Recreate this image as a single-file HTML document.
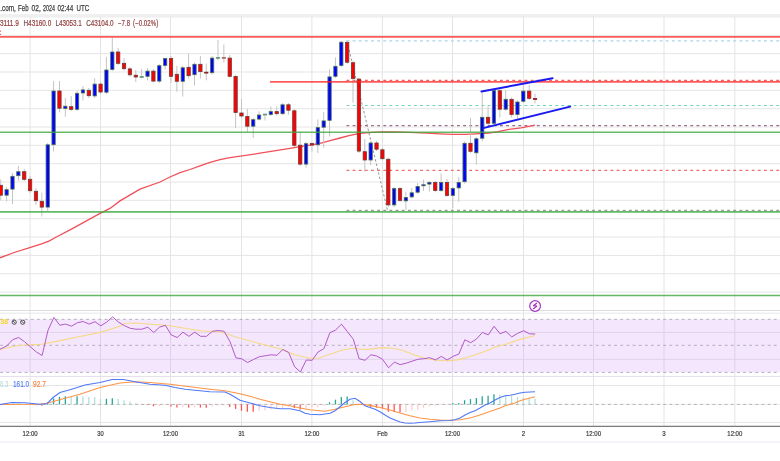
<!DOCTYPE html><html><head><meta charset="utf-8"><style>html,body{margin:0;padding:0;background:#fff;overflow:hidden}svg{display:block}text{font-family:"Liberation Sans",Arial,sans-serif}</style></head><body>
<svg width="780" height="461" viewBox="0 0 780 461">
<rect x="0" y="0" width="780" height="461" fill="#fff"/>
<g stroke="#e5e5e5" stroke-width="1"><line x1="0" y1="16.9" x2="780" y2="16.9"/><line x1="0" y1="35.3" x2="780" y2="35.3"/><line x1="0" y1="53.6" x2="780" y2="53.6"/><line x1="0" y1="72.0" x2="780" y2="72.0"/><line x1="0" y1="90.3" x2="780" y2="90.3"/><line x1="0" y1="108.7" x2="780" y2="108.7"/><line x1="0" y1="127.0" x2="780" y2="127.0"/><line x1="0" y1="145.3" x2="780" y2="145.3"/><line x1="0" y1="163.7" x2="780" y2="163.7"/><line x1="0" y1="182.0" x2="780" y2="182.0"/><line x1="0" y1="200.3" x2="780" y2="200.3"/><line x1="0" y1="218.7" x2="780" y2="218.7"/><line x1="0" y1="237.0" x2="780" y2="237.0"/><line x1="0" y1="255.4" x2="780" y2="255.4"/><line x1="0" y1="273.7" x2="780" y2="273.7"/><line x1="0" y1="292.1" x2="780" y2="292.1"/></g>
<g stroke="#e6e6e6" stroke-width="1"><line x1="0" y1="313.2" x2="780" y2="313.2"/><line x1="0" y1="385.5" x2="780" y2="385.5"/><line x1="0" y1="422.4" x2="780" y2="422.4"/></g>
<g stroke="#e4e4e4" stroke-width="1"><line x1="30.1" y1="14" x2="30.1" y2="426"/><line x1="100.5" y1="14" x2="100.5" y2="426"/><line x1="170.5" y1="14" x2="170.5" y2="426"/><line x1="241.5" y1="14" x2="241.5" y2="426"/><line x1="311.9" y1="14" x2="311.9" y2="426"/><line x1="382.4" y1="14" x2="382.4" y2="426"/><line x1="452.5" y1="14" x2="452.5" y2="426"/><line x1="523.5" y1="14" x2="523.5" y2="426"/><line x1="593.5" y1="14" x2="593.5" y2="426"/><line x1="664.0" y1="14" x2="664.0" y2="426"/><line x1="734.8" y1="14" x2="734.8" y2="426"/></g>
<rect x="0" y="319.3" width="780" height="53.1" fill="#f4e6fc"/>
<g stroke="#e2d2ec" stroke-width="1"><line x1="0" y1="332.4" x2="780" y2="332.4"/><line x1="0" y1="359.3" x2="780" y2="359.3"/></g>
<g stroke="#e0d0ea" stroke-width="1"><line x1="30.1" y1="319.3" x2="30.1" y2="372.4"/><line x1="100.5" y1="319.3" x2="100.5" y2="372.4"/><line x1="170.5" y1="319.3" x2="170.5" y2="372.4"/><line x1="241.5" y1="319.3" x2="241.5" y2="372.4"/><line x1="311.9" y1="319.3" x2="311.9" y2="372.4"/><line x1="382.4" y1="319.3" x2="382.4" y2="372.4"/><line x1="452.5" y1="319.3" x2="452.5" y2="372.4"/><line x1="523.5" y1="319.3" x2="523.5" y2="372.4"/><line x1="593.5" y1="319.3" x2="593.5" y2="372.4"/><line x1="664.0" y1="319.3" x2="664.0" y2="372.4"/><line x1="734.8" y1="319.3" x2="734.8" y2="372.4"/></g>
<g stroke="#b3adb9" stroke-width="1" stroke-dasharray="2.8,3.34" stroke-dashoffset="-0.2"><line x1="0" y1="319.3" x2="780" y2="319.3"/><line x1="0" y1="345.3" x2="780" y2="345.3"/><line x1="0" y1="372.4" x2="780" y2="372.4"/></g>
<line x1="0" y1="310.5" x2="780" y2="310.5" stroke="#dcdcdc" stroke-width="1"/>
<line x1="0" y1="376.4" x2="780" y2="376.4" stroke="#e4dcea" stroke-width="1"/>
<line x1="0" y1="404.4" x2="780" y2="404.4" stroke="#ececec" stroke-width="1"/>
<line x1="0" y1="404.4" x2="780" y2="404.4" stroke="#b2b2b2" stroke-width="1" stroke-dasharray="2.8,3.34" stroke-dashoffset="-0.2"/>
<line x1="0" y1="426.4" x2="780" y2="426.4" stroke="#7a7a7a" stroke-width="1.2"/>
<line x1="0" y1="442.1" x2="780" y2="442.1" stroke="#eceef3" stroke-width="1.2"/>
<rect x="0" y="0" width="780" height="14" fill="#fff"/>
<line x1="0" y1="15.3" x2="780" y2="15.3" stroke="#f0f0f0" stroke-width="2.5"/>
<g stroke-width="1.2" stroke-dasharray="2.8,3.34"><line x1="346.5" y1="40.9" x2="780" y2="40.9" stroke="#a6d3ea"/><line x1="346.5" y1="80.4" x2="780" y2="80.4" stroke="#f45a5a"/><line x1="346.5" y1="105.5" x2="780" y2="105.5" stroke="#6ad3b6"/><line x1="346.5" y1="125.6" x2="780" y2="125.6" stroke="#9a6a86"/><line x1="346.5" y1="170.4" x2="780" y2="170.4" stroke="#f26a6a"/><line x1="346.5" y1="210.4" x2="780" y2="210.4" stroke="#999999"/></g>
<line x1="347" y1="41" x2="387.5" y2="210.4" stroke="#8a8a8a" stroke-width="0.9" stroke-dasharray="2.5,2"/>
<polyline points="0.0,257.8 14.1,252.5 28.2,248.2 42.3,243.7 49.4,240.9 56.4,237.0 70.5,229.6 84.6,221.9 98.7,214.1 110.0,208.4 120.0,200.9 140.0,189.2 160.0,182.0 170.0,177.0 180.0,172.7 190.0,169.5 200.0,165.9 210.0,162.3 220.0,159.6 230.0,157.6 260.0,153.2 290.0,148.4 300.0,146.6 310.0,145.1 320.0,143.3 330.0,140.6 340.0,138.0 350.0,135.3 360.0,133.4 372.0,132.3 382.0,131.9 395.0,132.0 410.0,132.3 427.0,133.1 440.0,133.8 452.0,134.3 465.0,134.4 476.0,133.8 489.0,133.0 498.0,131.6 509.0,129.4 521.0,127.8 535.0,125.2" fill="none" stroke="#f0505a" stroke-width="1.3"/>
<g stroke="#c4c4c4" stroke-width="1"><line x1="0.74" y1="179.5" x2="0.74" y2="200.4"/><line x1="6.61" y1="187.3" x2="6.61" y2="201.4"/><line x1="12.49" y1="173.0" x2="12.49" y2="204.3"/><line x1="18.36" y1="165.9" x2="18.36" y2="180.8"/><line x1="24.23" y1="168.8" x2="24.23" y2="181.0"/><line x1="30.10" y1="176.0" x2="30.10" y2="193.0"/><line x1="35.97" y1="188.0" x2="35.97" y2="205.0"/><line x1="41.84" y1="192.7" x2="41.84" y2="216.5"/><line x1="47.72" y1="143.0" x2="47.72" y2="211.0"/><line x1="53.59" y1="81.0" x2="53.59" y2="151.5"/><line x1="59.46" y1="81.0" x2="59.46" y2="112.4"/><line x1="65.33" y1="98.0" x2="65.33" y2="116.8"/><line x1="71.20" y1="96.0" x2="71.20" y2="111.0"/><line x1="77.07" y1="91.0" x2="77.07" y2="111.0"/><line x1="82.94" y1="86.0" x2="82.94" y2="100.5"/><line x1="88.82" y1="88.0" x2="88.82" y2="98.0"/><line x1="94.69" y1="78.2" x2="94.69" y2="98.0"/><line x1="100.56" y1="82.0" x2="100.56" y2="94.0"/><line x1="106.43" y1="57.0" x2="106.43" y2="94.0"/><line x1="112.30" y1="37.6" x2="112.30" y2="71.0"/><line x1="118.17" y1="47.8" x2="118.17" y2="65.0"/><line x1="124.05" y1="58.2" x2="124.05" y2="70.5"/><line x1="129.92" y1="67.0" x2="129.92" y2="76.5"/><line x1="135.79" y1="70.0" x2="135.79" y2="82.0"/><line x1="141.66" y1="69.0" x2="141.66" y2="78.5"/><line x1="147.53" y1="68.0" x2="147.53" y2="80.3"/><line x1="153.41" y1="69.0" x2="153.41" y2="82.5"/><line x1="159.28" y1="64.0" x2="159.28" y2="83.0"/><line x1="165.15" y1="57.8" x2="165.15" y2="69.5"/><line x1="171.02" y1="56.0" x2="171.02" y2="83.0"/><line x1="176.89" y1="65.8" x2="176.89" y2="91.8"/><line x1="182.76" y1="65.8" x2="182.76" y2="96.5"/><line x1="188.63" y1="53.4" x2="188.63" y2="78.8"/><line x1="194.51" y1="62.5" x2="194.51" y2="85.3"/><line x1="200.38" y1="56.0" x2="200.38" y2="78.8"/><line x1="206.25" y1="63.6" x2="206.25" y2="80.3"/><line x1="212.12" y1="56.0" x2="212.12" y2="74.5"/><line x1="217.99" y1="39.8" x2="217.99" y2="60.4"/><line x1="223.86" y1="44.5" x2="223.86" y2="62.5"/><line x1="229.74" y1="55.0" x2="229.74" y2="77.5"/><line x1="235.61" y1="75.0" x2="235.61" y2="128.2"/><line x1="241.48" y1="99.0" x2="241.48" y2="117.5"/><line x1="247.35" y1="109.2" x2="247.35" y2="131.9"/><line x1="253.22" y1="118.0" x2="253.22" y2="138.0"/><line x1="259.09" y1="111.3" x2="259.09" y2="120.5"/><line x1="264.97" y1="113.5" x2="264.97" y2="120.5"/><line x1="270.84" y1="106.4" x2="270.84" y2="116.0"/><line x1="276.71" y1="106.5" x2="276.71" y2="115.5"/><line x1="282.58" y1="103.0" x2="282.58" y2="115.0"/><line x1="288.45" y1="103.0" x2="288.45" y2="114.5"/><line x1="294.32" y1="109.0" x2="294.32" y2="147.0"/><line x1="300.20" y1="131.5" x2="300.20" y2="166.0"/><line x1="306.07" y1="142.0" x2="306.07" y2="167.7"/><line x1="311.94" y1="142.5" x2="311.94" y2="151.4"/><line x1="317.81" y1="119.5" x2="317.81" y2="153.0"/><line x1="323.68" y1="112.0" x2="323.68" y2="147.7"/><line x1="329.56" y1="69.0" x2="329.56" y2="136.6"/><line x1="335.43" y1="57.5" x2="335.43" y2="78.0"/><line x1="341.30" y1="40.8" x2="341.30" y2="67.0"/><line x1="347.17" y1="41.0" x2="347.17" y2="64.0"/><line x1="353.04" y1="61.0" x2="353.04" y2="102.7"/><line x1="358.91" y1="77.5" x2="358.91" y2="153.0"/><line x1="364.78" y1="139.0" x2="364.78" y2="171.6"/><line x1="370.66" y1="141.0" x2="370.66" y2="165.0"/><line x1="376.53" y1="141.0" x2="376.53" y2="151.0"/><line x1="382.40" y1="148.0" x2="382.40" y2="160.5"/><line x1="388.27" y1="157.5" x2="388.27" y2="207.0"/><line x1="394.14" y1="187.0" x2="394.14" y2="207.0"/><line x1="400.01" y1="187.0" x2="400.01" y2="202.0"/><line x1="405.89" y1="191.7" x2="405.89" y2="209.9"/><line x1="411.76" y1="188.0" x2="411.76" y2="198.5"/><line x1="417.63" y1="183.0" x2="417.63" y2="194.0"/><line x1="423.50" y1="179.5" x2="423.50" y2="190.8"/><line x1="429.37" y1="181.0" x2="429.37" y2="191.7"/><line x1="435.25" y1="181.0" x2="435.25" y2="192.0"/><line x1="441.12" y1="173.4" x2="441.12" y2="192.0"/><line x1="446.99" y1="179.0" x2="446.99" y2="197.0"/><line x1="452.86" y1="187.0" x2="452.86" y2="208.2"/><line x1="458.73" y1="177.0" x2="458.73" y2="201.7"/><line x1="464.60" y1="141.5" x2="464.60" y2="183.5"/><line x1="470.47" y1="117.7" x2="470.47" y2="153.0"/><line x1="476.35" y1="137.0" x2="476.35" y2="164.7"/><line x1="482.22" y1="92.5" x2="482.22" y2="141.3"/><line x1="488.09" y1="106.6" x2="488.09" y2="125.0"/><line x1="493.96" y1="89.0" x2="493.96" y2="125.0"/><line x1="499.83" y1="89.0" x2="499.83" y2="117.5"/><line x1="505.70" y1="90.0" x2="505.70" y2="111.0"/><line x1="511.58" y1="97.5" x2="511.58" y2="117.5"/><line x1="517.45" y1="100.5" x2="517.45" y2="118.5"/><line x1="523.32" y1="85.0" x2="523.32" y2="103.0"/><line x1="529.19" y1="85.0" x2="529.19" y2="100.0"/><line x1="535.06" y1="93.6" x2="535.06" y2="103.4"/></g>
<g stroke-width="0.8"><rect x="-0.91" y="185.30" width="3.30" height="9.90" fill="#ff0000" stroke="#6e3a3a"/><rect x="4.96" y="189.70" width="3.30" height="5.50" fill="#0000ff" stroke="#4f7252"/><rect x="10.84" y="176.30" width="3.30" height="12.80" fill="#0000ff" stroke="#4f7252"/><rect x="16.71" y="171.70" width="3.30" height="4.00" fill="#0000ff" stroke="#4f7252"/><rect x="22.58" y="171.70" width="3.30" height="7.60" fill="#ff0000" stroke="#6e3a3a"/><rect x="28.45" y="179.30" width="3.30" height="11.40" fill="#ff0000" stroke="#6e3a3a"/><rect x="34.32" y="191.30" width="3.30" height="9.40" fill="#ff0000" stroke="#6e3a3a"/><rect x="40.19" y="201.30" width="3.30" height="5.80" fill="#ff0000" stroke="#6e3a3a"/><rect x="46.07" y="144.80" width="3.30" height="62.30" fill="#0000ff" stroke="#4f7252"/><rect x="51.94" y="91.00" width="3.30" height="53.70" fill="#0000ff" stroke="#4f7252"/><rect x="57.81" y="91.00" width="3.30" height="17.20" fill="#ff0000" stroke="#6e3a3a"/><rect x="63.68" y="106.20" width="3.30" height="2.30" fill="#0000ff" stroke="#4f7252"/><rect x="69.55" y="106.70" width="3.30" height="2.60" fill="#ff0000" stroke="#6e3a3a"/><rect x="75.42" y="93.30" width="3.30" height="16.00" fill="#0000ff" stroke="#4f7252"/><rect x="81.29" y="89.90" width="3.30" height="3.10" fill="#0000ff" stroke="#4f7252"/><rect x="87.17" y="90.30" width="3.30" height="5.40" fill="#ff0000" stroke="#6e3a3a"/><rect x="93.04" y="84.10" width="3.30" height="11.80" fill="#0000ff" stroke="#4f7252"/><rect x="98.91" y="84.10" width="3.30" height="7.90" fill="#ff0000" stroke="#6e3a3a"/><rect x="104.78" y="70.00" width="3.30" height="22.20" fill="#0000ff" stroke="#4f7252"/><rect x="110.65" y="52.00" width="3.30" height="17.40" fill="#0000ff" stroke="#4f7252"/><rect x="116.52" y="52.00" width="3.30" height="11.30" fill="#ff0000" stroke="#6e3a3a"/><rect x="122.40" y="63.30" width="3.30" height="5.40" fill="#ff0000" stroke="#6e3a3a"/><rect x="128.27" y="68.90" width="3.30" height="5.90" fill="#ff0000" stroke="#6e3a3a"/><rect x="134.14" y="75.20" width="3.30" height="1.80" fill="#ff0000" stroke="#6e3a3a"/><rect x="140.01" y="76.50" width="3.30" height="0.90" fill="#6e9a7e" stroke="#6e9a7e"/><rect x="145.88" y="71.10" width="3.30" height="5.20" fill="#0000ff" stroke="#4f7252"/><rect x="151.75" y="71.10" width="3.30" height="10.00" fill="#ff0000" stroke="#6e3a3a"/><rect x="157.63" y="65.70" width="3.30" height="15.40" fill="#0000ff" stroke="#4f7252"/><rect x="163.50" y="58.50" width="3.30" height="7.00" fill="#0000ff" stroke="#4f7252"/><rect x="169.37" y="58.50" width="3.30" height="17.80" fill="#ff0000" stroke="#6e3a3a"/><rect x="175.24" y="74.30" width="3.30" height="7.00" fill="#ff0000" stroke="#6e3a3a"/><rect x="181.11" y="67.80" width="3.30" height="13.50" fill="#0000ff" stroke="#4f7252"/><rect x="186.98" y="67.30" width="3.30" height="8.40" fill="#ff0000" stroke="#6e3a3a"/><rect x="192.86" y="64.30" width="3.30" height="10.40" fill="#0000ff" stroke="#4f7252"/><rect x="198.73" y="64.30" width="3.30" height="7.30" fill="#ff0000" stroke="#6e3a3a"/><rect x="204.60" y="72.20" width="3.30" height="0.90" fill="#8a2020" stroke="#8a2020"/><rect x="210.47" y="58.10" width="3.30" height="14.60" fill="#0000ff" stroke="#4f7252"/><rect x="216.34" y="57.40" width="3.30" height="0.90" fill="#6e9a7e" stroke="#6e9a7e"/><rect x="222.21" y="57.40" width="3.30" height="0.90" fill="#a86a6a" stroke="#a86a6a"/><rect x="228.09" y="58.10" width="3.30" height="18.20" fill="#ff0000" stroke="#6e3a3a"/><rect x="233.96" y="76.50" width="3.30" height="36.00" fill="#ff0000" stroke="#6e3a3a"/><rect x="239.83" y="113.00" width="3.30" height="3.00" fill="#ff0000" stroke="#6e3a3a"/><rect x="245.70" y="116.50" width="3.30" height="9.70" fill="#ff0000" stroke="#6e3a3a"/><rect x="251.57" y="119.70" width="3.30" height="6.50" fill="#0000ff" stroke="#4f7252"/><rect x="257.44" y="115.00" width="3.30" height="4.10" fill="#0000ff" stroke="#4f7252"/><rect x="263.32" y="114.10" width="3.30" height="0.90" fill="#6e9a7e" stroke="#6e9a7e"/><rect x="269.19" y="111.60" width="3.30" height="2.90" fill="#0000ff" stroke="#4f7252"/><rect x="275.06" y="111.60" width="3.30" height="2.10" fill="#ff0000" stroke="#6e3a3a"/><rect x="280.93" y="104.80" width="3.30" height="8.90" fill="#0000ff" stroke="#4f7252"/><rect x="286.80" y="104.80" width="3.30" height="5.40" fill="#ff0000" stroke="#6e3a3a"/><rect x="292.68" y="110.80" width="3.30" height="34.50" fill="#ff0000" stroke="#6e3a3a"/><rect x="298.55" y="145.20" width="3.30" height="18.90" fill="#ff0000" stroke="#6e3a3a"/><rect x="304.42" y="143.70" width="3.30" height="20.40" fill="#0000ff" stroke="#4f7252"/><rect x="310.29" y="143.50" width="3.30" height="1.60" fill="#ff0000" stroke="#6e3a3a"/><rect x="316.16" y="127.60" width="3.30" height="17.20" fill="#0000ff" stroke="#4f7252"/><rect x="322.03" y="120.90" width="3.30" height="6.30" fill="#0000ff" stroke="#4f7252"/><rect x="327.91" y="76.90" width="3.30" height="43.40" fill="#0000ff" stroke="#4f7252"/><rect x="333.78" y="66.30" width="3.30" height="10.00" fill="#0000ff" stroke="#4f7252"/><rect x="339.65" y="42.20" width="3.30" height="23.30" fill="#0000ff" stroke="#4f7252"/><rect x="345.52" y="42.40" width="3.30" height="19.80" fill="#ff0000" stroke="#6e3a3a"/><rect x="351.39" y="62.70" width="3.30" height="15.80" fill="#ff0000" stroke="#6e3a3a"/><rect x="357.26" y="79.10" width="3.30" height="72.00" fill="#ff0000" stroke="#6e3a3a"/><rect x="363.13" y="151.70" width="3.30" height="8.30" fill="#ff0000" stroke="#6e3a3a"/><rect x="369.01" y="143.00" width="3.30" height="17.00" fill="#0000ff" stroke="#4f7252"/><rect x="374.88" y="143.00" width="3.30" height="6.20" fill="#ff0000" stroke="#6e3a3a"/><rect x="380.75" y="149.80" width="3.30" height="8.90" fill="#ff0000" stroke="#6e3a3a"/><rect x="386.62" y="159.30" width="3.30" height="45.60" fill="#ff0000" stroke="#6e3a3a"/><rect x="392.49" y="188.60" width="3.30" height="16.30" fill="#0000ff" stroke="#4f7252"/><rect x="398.37" y="188.60" width="3.30" height="11.80" fill="#ff0000" stroke="#6e3a3a"/><rect x="404.24" y="197.50" width="3.30" height="3.40" fill="#0000ff" stroke="#4f7252"/><rect x="410.11" y="192.80" width="3.30" height="4.10" fill="#0000ff" stroke="#4f7252"/><rect x="415.98" y="186.40" width="3.30" height="5.80" fill="#0000ff" stroke="#4f7252"/><rect x="421.85" y="184.70" width="3.30" height="1.10" fill="#0000ff" stroke="#4f7252"/><rect x="427.72" y="182.40" width="3.30" height="1.70" fill="#0000ff" stroke="#4f7252"/><rect x="433.60" y="182.40" width="3.30" height="8.10" fill="#ff0000" stroke="#6e3a3a"/><rect x="439.47" y="182.40" width="3.30" height="8.10" fill="#0000ff" stroke="#4f7252"/><rect x="445.34" y="182.40" width="3.30" height="13.00" fill="#ff0000" stroke="#6e3a3a"/><rect x="451.21" y="188.50" width="3.30" height="6.90" fill="#0000ff" stroke="#4f7252"/><rect x="457.08" y="182.40" width="3.30" height="5.50" fill="#0000ff" stroke="#4f7252"/><rect x="462.95" y="143.30" width="3.30" height="38.40" fill="#0000ff" stroke="#4f7252"/><rect x="468.82" y="143.30" width="3.30" height="8.00" fill="#ff0000" stroke="#6e3a3a"/><rect x="474.70" y="138.80" width="3.30" height="14.00" fill="#0000ff" stroke="#4f7252"/><rect x="480.57" y="117.30" width="3.30" height="20.90" fill="#0000ff" stroke="#4f7252"/><rect x="486.44" y="117.30" width="3.30" height="5.90" fill="#ff0000" stroke="#6e3a3a"/><rect x="492.31" y="90.70" width="3.30" height="32.60" fill="#0000ff" stroke="#4f7252"/><rect x="498.18" y="90.70" width="3.30" height="18.50" fill="#ff0000" stroke="#6e3a3a"/><rect x="504.06" y="99.30" width="3.30" height="9.90" fill="#0000ff" stroke="#4f7252"/><rect x="509.93" y="99.30" width="3.30" height="15.20" fill="#ff0000" stroke="#6e3a3a"/><rect x="515.80" y="102.00" width="3.30" height="12.50" fill="#0000ff" stroke="#4f7252"/><rect x="521.67" y="91.10" width="3.30" height="10.20" fill="#0000ff" stroke="#4f7252"/><rect x="527.54" y="91.10" width="3.30" height="7.20" fill="#ff0000" stroke="#6e3a3a"/><rect x="533.41" y="98.50" width="3.30" height="0.90" fill="#8a2020" stroke="#8a2020"/></g>
<g fill="none"><line x1="0" y1="36.9" x2="780" y2="36.9" stroke="#ff2020" stroke-opacity="0.74" stroke-width="1.9"/><line x1="270" y1="81.9" x2="780" y2="81.9" stroke="#ff2020" stroke-opacity="0.74" stroke-width="1.9"/><line x1="0" y1="132.3" x2="780" y2="132.3" stroke="#3fa63f" stroke-opacity="0.8" stroke-width="1.6"/><line x1="0" y1="211.9" x2="780" y2="211.9" stroke="#3fa63f" stroke-opacity="0.8" stroke-width="1.6"/><line x1="0" y1="295.5" x2="780" y2="295.5" stroke="#3fa63f" stroke-opacity="0.8" stroke-width="1.6"/></g>
<g stroke="#1a1af0" stroke-width="2" stroke-linecap="round"><line x1="481.5" y1="91.6" x2="552.6" y2="78.2"/><line x1="483.2" y1="128.1" x2="570.1" y2="106.6"/></g>
<polyline points="0.0,349.3 20.0,345.2 42.0,344.3 60.0,340.6 80.0,336.5 100.0,332.4 120.0,326.2 125.0,323.5 135.0,323.0 170.0,325.8 200.0,330.8 220.0,331.7 235.0,336.7 246.7,340.0 265.0,345.0 281.7,349.2 295.0,355.0 310.0,358.3 318.3,358.3 330.0,354.2 343.3,349.7 353.3,348.3 363.3,349.5 370.0,349.1 381.5,347.6 393.2,348.2 403.0,350.5 414.7,355.0 424.4,358.3 436.0,360.3 447.8,360.7 457.6,359.9 467.4,357.3 479.0,353.4 490.0,349.5 494.7,347.2 507.1,343.7 519.4,339.6 534.9,335.5" fill="none" stroke="#f6d985" stroke-width="1.1"/>
<polyline points="0.0,349.3 6.9,345.8 12.8,339.6 18.7,337.5 24.5,341.7 30.4,346.8 36.3,352.0 42.1,355.5 48.0,330.3 53.9,317.5 59.8,325.2 65.6,324.1 71.5,326.2 77.4,322.7 83.2,321.5 89.1,324.1 95.0,321.7 100.8,325.8 106.7,322.1 112.6,316.9 118.5,322.1 124.3,325.6 130.2,328.3 136.0,329.2 141.9,329.2 147.8,327.2 153.7,332.5 159.5,327.2 165.4,325.3 171.3,335.0 177.2,337.5 183.0,332.2 188.9,336.3 194.8,332.2 200.6,336.3 206.5,336.3 212.4,331.3 218.2,330.5 224.1,331.3 230.0,341.7 235.9,357.8 241.7,358.8 247.6,362.5 253.5,359.5 259.3,356.7 265.2,355.8 271.0,354.8 276.9,355.3 282.8,349.5 288.7,352.5 294.6,366.7 300.4,372.0 306.3,360.0 312.2,360.3 318.0,352.0 323.9,348.7 329.8,332.8 335.6,330.0 341.5,324.2 347.4,331.7 353.3,339.2 359.1,358.7 365.0,360.3 370.9,354.8 376.7,356.0 382.6,359.3 388.5,367.7 394.4,362.2 400.2,364.6 406.1,363.2 412.0,361.2 417.8,359.3 423.7,358.7 429.6,357.7 435.5,359.9 441.3,356.4 447.2,359.9 453.1,356.4 458.9,354.0 464.8,339.8 470.7,342.7 476.5,339.0 482.4,332.4 488.3,334.9 494.1,326.2 500.0,333.8 505.9,331.4 511.7,336.9 517.6,333.4 523.5,330.7 529.4,333.8 535.2,334.0" fill="none" stroke="#b25ac8" stroke-width="1.0" stroke-linejoin="round"/>
<g stroke-width="1.3"><line x1="0.74" y1="404.4" x2="0.74" y2="405.2" stroke="#ffcdd2"/><line x1="6.61" y1="404.2" x2="6.61" y2="404.4" stroke="#26a69a"/><line x1="12.49" y1="403.9" x2="12.49" y2="404.4" stroke="#26a69a"/><line x1="18.36" y1="403.8" x2="18.36" y2="404.4" stroke="#26a69a"/><line x1="24.23" y1="404.1" x2="24.23" y2="404.4" stroke="#b2dfdb"/><line x1="30.10" y1="404.3" x2="30.10" y2="404.4" stroke="#b2dfdb"/><line x1="35.97" y1="404.4" x2="35.97" y2="405.2" stroke="#ff5252"/><line x1="41.84" y1="404.4" x2="41.84" y2="405.7" stroke="#ff5252"/><line x1="47.72" y1="403.2" x2="47.72" y2="404.4" stroke="#26a69a"/><line x1="53.59" y1="398.4" x2="53.59" y2="404.4" stroke="#26a69a"/><line x1="59.46" y1="396.9" x2="59.46" y2="404.4" stroke="#26a69a"/><line x1="65.33" y1="396.2" x2="65.33" y2="404.4" stroke="#26a69a"/><line x1="71.20" y1="397.1" x2="71.20" y2="404.4" stroke="#b2dfdb"/><line x1="77.07" y1="396.2" x2="77.07" y2="404.4" stroke="#26a69a"/><line x1="82.94" y1="396.2" x2="82.94" y2="404.4" stroke="#b2dfdb"/><line x1="88.82" y1="397.1" x2="88.82" y2="404.4" stroke="#b2dfdb"/><line x1="94.69" y1="397.1" x2="94.69" y2="404.4" stroke="#b2dfdb"/><line x1="100.56" y1="399.0" x2="100.56" y2="404.4" stroke="#b2dfdb"/><line x1="106.43" y1="398.8" x2="106.43" y2="404.4" stroke="#26a69a"/><line x1="112.30" y1="398.2" x2="112.30" y2="404.4" stroke="#26a69a"/><line x1="118.17" y1="399.0" x2="118.17" y2="404.4" stroke="#b2dfdb"/><line x1="124.05" y1="400.3" x2="124.05" y2="404.4" stroke="#b2dfdb"/><line x1="129.92" y1="401.6" x2="129.92" y2="404.4" stroke="#b2dfdb"/><line x1="135.79" y1="403.2" x2="135.79" y2="404.4" stroke="#b2dfdb"/><line x1="141.66" y1="404.4" x2="141.66" y2="404.7" stroke="#ff5252"/><line x1="147.53" y1="404.4" x2="147.53" y2="405.0" stroke="#ff5252"/><line x1="153.41" y1="404.4" x2="153.41" y2="406.3" stroke="#ff5252"/><line x1="159.28" y1="404.4" x2="159.28" y2="406.1" stroke="#ffcdd2"/><line x1="165.15" y1="404.4" x2="165.15" y2="405.3" stroke="#ffcdd2"/><line x1="171.02" y1="404.4" x2="171.02" y2="406.6" stroke="#ff5252"/><line x1="176.89" y1="404.4" x2="176.89" y2="407.6" stroke="#ff5252"/><line x1="182.76" y1="404.4" x2="182.76" y2="407.3" stroke="#ffcdd2"/><line x1="188.63" y1="404.4" x2="188.63" y2="407.6" stroke="#ff5252"/><line x1="194.51" y1="404.4" x2="194.51" y2="407.3" stroke="#ffcdd2"/><line x1="200.38" y1="404.4" x2="200.38" y2="407.6" stroke="#ff5252"/><line x1="206.25" y1="404.4" x2="206.25" y2="407.7" stroke="#ff5252"/><line x1="212.12" y1="404.4" x2="212.12" y2="406.6" stroke="#ffcdd2"/><line x1="217.99" y1="404.4" x2="217.99" y2="405.7" stroke="#ffcdd2"/><line x1="223.86" y1="404.4" x2="223.86" y2="405.6" stroke="#ffcdd2"/><line x1="229.74" y1="404.4" x2="229.74" y2="407.0" stroke="#ff5252"/><line x1="235.61" y1="404.4" x2="235.61" y2="408.9" stroke="#ff5252"/><line x1="241.48" y1="404.4" x2="241.48" y2="410.8" stroke="#ff5252"/><line x1="247.35" y1="404.4" x2="247.35" y2="411.7" stroke="#ff5252"/><line x1="253.22" y1="404.4" x2="253.22" y2="411.8" stroke="#ff5252"/><line x1="259.09" y1="404.4" x2="259.09" y2="410.8" stroke="#ffcdd2"/><line x1="264.97" y1="404.4" x2="264.97" y2="410.6" stroke="#ffcdd2"/><line x1="270.84" y1="404.4" x2="270.84" y2="409.5" stroke="#ffcdd2"/><line x1="276.71" y1="404.4" x2="276.71" y2="408.2" stroke="#ffcdd2"/><line x1="282.58" y1="404.4" x2="282.58" y2="408.0" stroke="#ffcdd2"/><line x1="288.45" y1="404.4" x2="288.45" y2="406.7" stroke="#ffcdd2"/><line x1="294.32" y1="404.4" x2="294.32" y2="408.0" stroke="#ff5252"/><line x1="300.20" y1="404.4" x2="300.20" y2="409.5" stroke="#ff5252"/><line x1="306.07" y1="404.4" x2="306.07" y2="408.5" stroke="#ffcdd2"/><line x1="311.94" y1="404.4" x2="311.94" y2="407.6" stroke="#ffcdd2"/><line x1="317.81" y1="404.4" x2="317.81" y2="407.5" stroke="#ffcdd2"/><line x1="323.68" y1="404.4" x2="323.68" y2="405.9" stroke="#ffcdd2"/><line x1="329.56" y1="402.2" x2="329.56" y2="404.4" stroke="#26a69a"/><line x1="335.43" y1="399.7" x2="335.43" y2="404.4" stroke="#26a69a"/><line x1="341.30" y1="397.1" x2="341.30" y2="404.4" stroke="#26a69a"/><line x1="347.17" y1="396.4" x2="347.17" y2="404.4" stroke="#26a69a"/><line x1="353.04" y1="400.3" x2="353.04" y2="404.4" stroke="#b2dfdb"/><line x1="358.91" y1="404.0" x2="358.91" y2="404.4" stroke="#b2dfdb"/><line x1="364.78" y1="404.4" x2="364.78" y2="405.0" stroke="#ff5252"/><line x1="370.66" y1="404.4" x2="370.66" y2="407.3" stroke="#ff5252"/><line x1="376.53" y1="404.4" x2="376.53" y2="407.7" stroke="#ff5252"/><line x1="382.40" y1="404.4" x2="382.40" y2="408.5" stroke="#ff5252"/><line x1="388.27" y1="404.4" x2="388.27" y2="411.8" stroke="#ff5252"/><line x1="394.14" y1="404.4" x2="394.14" y2="411.9" stroke="#ff5252"/><line x1="400.01" y1="404.4" x2="400.01" y2="412.3" stroke="#ff5252"/><line x1="405.89" y1="404.4" x2="405.89" y2="411.9" stroke="#ffcdd2"/><line x1="411.76" y1="404.4" x2="411.76" y2="410.6" stroke="#ffcdd2"/><line x1="417.63" y1="404.4" x2="417.63" y2="409.8" stroke="#ffcdd2"/><line x1="423.50" y1="404.4" x2="423.50" y2="407.9" stroke="#ffcdd2"/><line x1="429.37" y1="404.4" x2="429.37" y2="406.5" stroke="#ffcdd2"/><line x1="435.25" y1="404.4" x2="435.25" y2="406.1" stroke="#ffcdd2"/><line x1="441.12" y1="404.4" x2="441.12" y2="404.9" stroke="#ffcdd2"/><line x1="446.99" y1="404.4" x2="446.99" y2="404.7" stroke="#ffcdd2"/><line x1="452.86" y1="403.1" x2="452.86" y2="404.4" stroke="#26a69a"/><line x1="458.73" y1="402.9" x2="458.73" y2="404.4" stroke="#26a69a"/><line x1="464.60" y1="400.2" x2="464.60" y2="404.4" stroke="#26a69a"/><line x1="470.47" y1="399.1" x2="470.47" y2="404.4" stroke="#26a69a"/><line x1="476.35" y1="398.1" x2="476.35" y2="404.4" stroke="#26a69a"/><line x1="482.22" y1="396.2" x2="482.22" y2="404.4" stroke="#26a69a"/><line x1="488.09" y1="395.7" x2="488.09" y2="404.4" stroke="#26a69a"/><line x1="493.96" y1="394.3" x2="493.96" y2="404.4" stroke="#26a69a"/><line x1="499.83" y1="394.8" x2="499.83" y2="404.4" stroke="#b2dfdb"/><line x1="505.70" y1="395.5" x2="505.70" y2="404.4" stroke="#b2dfdb"/><line x1="511.58" y1="395.7" x2="511.58" y2="404.4" stroke="#b2dfdb"/><line x1="517.45" y1="397.2" x2="517.45" y2="404.4" stroke="#b2dfdb"/><line x1="523.32" y1="397.7" x2="523.32" y2="404.4" stroke="#b2dfdb"/><line x1="529.19" y1="398.6" x2="529.19" y2="404.4" stroke="#b2dfdb"/><line x1="535.06" y1="399.1" x2="535.06" y2="404.4" stroke="#b2dfdb"/></g>
<polyline points="0.0,404.5 40.0,404.3 50.0,402.5 65.0,398.3 80.0,394.2 100.0,387.5 120.0,383.0 135.0,381.7 150.0,382.5 170.0,384.2 190.0,386.7 210.0,389.2 225.0,390.8 240.0,393.7 250.0,396.3 260.0,399.2 270.0,401.7 280.0,404.2 290.0,405.8 300.0,408.0 310.0,409.7 320.0,410.8 325.0,411.3 335.0,409.2 345.0,406.7 355.0,404.5 362.0,404.2 370.0,405.4 380.0,407.5 390.0,410.0 400.0,413.0 410.0,415.8 420.0,418.0 430.0,419.2 440.0,420.0 450.0,420.3 460.0,419.7 470.0,418.0 480.0,415.0 490.0,411.5 500.0,408.0 505.0,405.8 510.0,404.2 515.0,403.0 520.0,400.8 525.0,399.2 530.0,398.0 535.0,396.7" fill="none" stroke="#ff9446" stroke-width="1.1"/>
<polyline points="0.0,404.5 12.0,402.5 25.0,402.8 40.0,404.2 47.0,403.7 53.0,397.5 60.0,392.5 70.0,389.7 85.0,385.0 100.0,382.5 112.0,379.5 123.0,379.5 130.0,380.8 135.0,381.7 150.0,384.2 165.0,385.3 175.0,387.5 185.0,389.2 200.0,390.8 210.0,391.7 225.0,392.0 230.0,394.2 240.0,400.3 250.0,403.0 260.0,405.8 270.0,407.5 280.0,408.7 290.0,408.7 300.0,410.8 305.0,413.3 310.0,414.2 320.0,414.7 330.0,413.3 335.0,410.8 340.0,406.7 345.0,402.5 350.0,399.2 355.0,398.3 360.0,401.5 365.0,405.8 370.0,407.5 375.0,409.2 380.0,411.7 385.0,415.0 390.0,418.0 395.0,420.0 400.0,422.0 405.0,423.0 410.0,423.3 415.0,423.0 420.0,422.5 430.0,421.7 440.0,420.8 450.0,420.5 455.0,419.7 460.0,418.0 465.0,415.0 470.0,412.5 475.0,410.8 480.0,408.0 485.0,405.0 490.0,403.0 495.0,400.0 500.0,397.5 505.0,395.8 510.0,395.3 515.0,394.2 520.0,393.0 525.0,392.2 530.0,392.0 535.0,391.7" fill="none" stroke="#4f78f5" stroke-width="1.1"/>
<g transform="translate(535.1,306.0)"><circle r="5.35" fill="#fff" stroke="#a736c4" stroke-width="1.2"/><polyline points="1.5,-2.8 -1.7,-0.3 1.7,0.2 -1.6,2.7" fill="none" stroke="#a736c4" stroke-width="1.25" stroke-linejoin="round" stroke-linecap="round"/></g>
<text x="0.20" y="10.70" font-size="8.80" fill="#3c3c3c" text-anchor="start" textLength="15.60" lengthAdjust="spacingAndGlyphs" stroke="#3c3c3c" stroke-width="0.25">.com,</text>
<text x="18.10" y="10.70" font-size="8.80" fill="#3c3c3c" text-anchor="start" textLength="10.50" lengthAdjust="spacingAndGlyphs" stroke="#3c3c3c" stroke-width="0.25">Feb</text>
<text x="31.60" y="10.70" font-size="8.80" fill="#3c3c3c" text-anchor="start" textLength="9.20" lengthAdjust="spacingAndGlyphs" stroke="#3c3c3c" stroke-width="0.25">02,</text>
<text x="43.00" y="10.70" font-size="8.80" fill="#3c3c3c" text-anchor="start" textLength="12.00" lengthAdjust="spacingAndGlyphs" stroke="#3c3c3c" stroke-width="0.25">2024</text>
<text x="57.50" y="10.70" font-size="8.80" fill="#3c3c3c" text-anchor="start" textLength="15.80" lengthAdjust="spacingAndGlyphs" stroke="#3c3c3c" stroke-width="0.25">02:44</text>
<text x="76.60" y="10.70" font-size="8.80" fill="#3c3c3c" text-anchor="start" textLength="12.60" lengthAdjust="spacingAndGlyphs" stroke="#3c3c3c" stroke-width="0.25">UTC</text>
<text x="0.00" y="25.80" font-size="8.40" fill="#94403f" text-anchor="start" textLength="18.80" lengthAdjust="spacingAndGlyphs" stroke="#94403f" stroke-width="0.2">3111.9</text>
<text x="23.50" y="25.80" font-size="8.40" fill="#94403f" text-anchor="start" textLength="27.70" lengthAdjust="spacingAndGlyphs" stroke="#94403f" stroke-width="0.2"><tspan fill="#5a5a5a">H</tspan>43160.0</text>
<text x="55.40" y="25.80" font-size="8.40" fill="#94403f" text-anchor="start" textLength="26.50" lengthAdjust="spacingAndGlyphs" stroke="#94403f" stroke-width="0.2"><tspan fill="#5a5a5a">L</tspan>43053.1</text>
<text x="86.20" y="25.80" font-size="8.40" fill="#94403f" text-anchor="start" textLength="27.40" lengthAdjust="spacingAndGlyphs" stroke="#94403f" stroke-width="0.2"><tspan fill="#5a5a5a">C</tspan>43104.0</text>
<text x="118.10" y="25.80" font-size="8.40" fill="#94403f" text-anchor="start" textLength="11.90" lengthAdjust="spacingAndGlyphs" stroke="#94403f" stroke-width="0.2">−7.8</text>
<text x="133.10" y="25.80" font-size="8.40" fill="#94403f" text-anchor="start" textLength="25.10" lengthAdjust="spacingAndGlyphs" stroke="#94403f" stroke-width="0.2">(−0.02%)</text>
<text x="0.50" y="324.40" font-size="7.40" fill="#f6d820" text-anchor="start" textLength="7.50" lengthAdjust="spacingAndGlyphs" font-weight="bold">38</text>
<g transform="translate(14.2,322.2)"><circle r="2.1" fill="none" stroke="#505050" stroke-width="1"/><line x1="-1.4" y1="-1.4" x2="1.4" y2="1.4" stroke="#505050" stroke-width="0.9"/></g>
<g transform="translate(22.7,322.2)"><circle r="2.1" fill="none" stroke="#505050" stroke-width="1"/><line x1="-1.4" y1="-1.4" x2="1.4" y2="1.4" stroke="#505050" stroke-width="0.9"/></g>
<text x="0.00" y="387.40" font-size="8.80" fill="#a8dcd4" text-anchor="start" textLength="8.30" lengthAdjust="spacingAndGlyphs">8.3</text>
<text x="13.00" y="387.40" font-size="8.80" fill="#5580f5" text-anchor="start" textLength="16.20" lengthAdjust="spacingAndGlyphs" stroke="#5580f5" stroke-width="0.15">161.0</text>
<text x="33.00" y="387.40" font-size="8.80" fill="#ff8236" text-anchor="start" textLength="12.80" lengthAdjust="spacingAndGlyphs" stroke="#ff8236" stroke-width="0.15">92.7</text>
<text x="30.07" y="436.30" font-size="7.60" fill="#3c3c3c" text-anchor="middle" textLength="15.00" lengthAdjust="spacingAndGlyphs" stroke="#3c3c3c" stroke-width="0.22">12:00</text>
<text x="100.50" y="436.30" font-size="7.60" fill="#3c3c3c" text-anchor="middle" textLength="6.40" lengthAdjust="spacingAndGlyphs" stroke="#3c3c3c" stroke-width="0.22">30</text>
<text x="170.50" y="436.30" font-size="7.60" fill="#3c3c3c" text-anchor="middle" textLength="15.00" lengthAdjust="spacingAndGlyphs" stroke="#3c3c3c" stroke-width="0.22">12:00</text>
<text x="241.50" y="436.30" font-size="7.60" fill="#3c3c3c" text-anchor="middle" textLength="6.20" lengthAdjust="spacingAndGlyphs" stroke="#3c3c3c" stroke-width="0.22">31</text>
<text x="311.90" y="436.30" font-size="7.60" fill="#3c3c3c" text-anchor="middle" textLength="15.00" lengthAdjust="spacingAndGlyphs" stroke="#3c3c3c" stroke-width="0.22">12:00</text>
<text x="382.40" y="436.30" font-size="7.60" fill="#3c3c3c" text-anchor="middle" textLength="10.40" lengthAdjust="spacingAndGlyphs" stroke="#3c3c3c" stroke-width="0.22">Feb</text>
<text x="452.50" y="436.30" font-size="7.60" fill="#3c3c3c" text-anchor="middle" textLength="15.00" lengthAdjust="spacingAndGlyphs" stroke="#3c3c3c" stroke-width="0.22">12:00</text>
<text x="523.50" y="436.30" font-size="7.60" fill="#3c3c3c" text-anchor="middle" textLength="3.40" lengthAdjust="spacingAndGlyphs" stroke="#3c3c3c" stroke-width="0.22">2</text>
<text x="593.50" y="436.30" font-size="7.60" fill="#3c3c3c" text-anchor="middle" textLength="15.00" lengthAdjust="spacingAndGlyphs" stroke="#3c3c3c" stroke-width="0.22">12:00</text>
<text x="664.00" y="436.30" font-size="7.60" fill="#3c3c3c" text-anchor="middle" textLength="3.40" lengthAdjust="spacingAndGlyphs" stroke="#3c3c3c" stroke-width="0.22">3</text>
<text x="734.80" y="436.30" font-size="7.60" fill="#3c3c3c" text-anchor="middle" textLength="15.00" lengthAdjust="spacingAndGlyphs" stroke="#3c3c3c" stroke-width="0.22">12:00</text>
<rect x="0" y="30.5" width="1" height="1.2" fill="#f55"/><rect x="0" y="33.8" width="1" height="1.2" fill="#f55"/>
</svg></body></html>
